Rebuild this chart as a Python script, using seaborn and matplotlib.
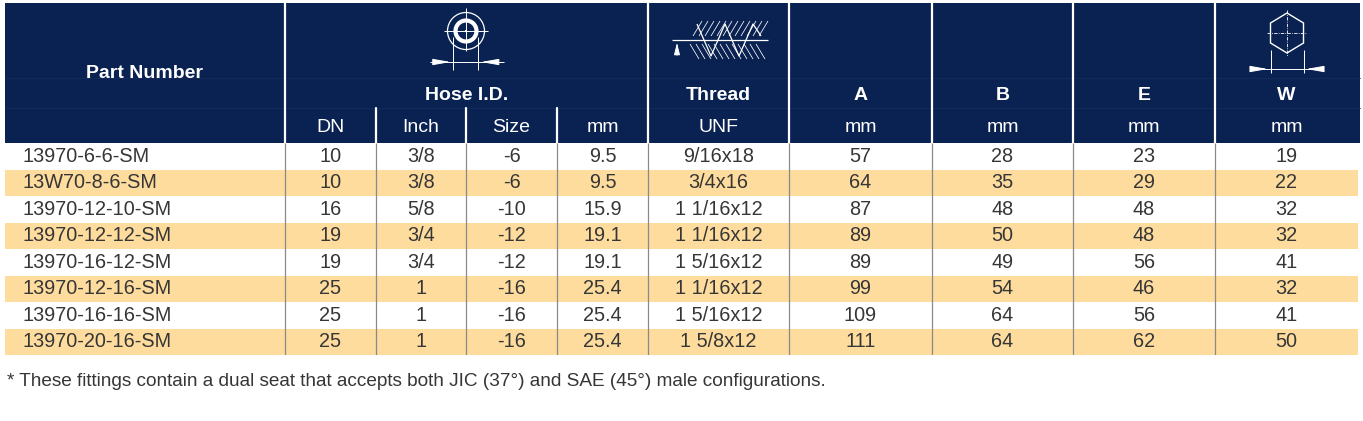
import numpy as np
import pandas as pd
import matplotlib
matplotlib.use("Agg")
import matplotlib.pyplot as plt
from matplotlib.patches import Rectangle, Circle, Polygon
import seaborn as sns

# ---------------- data ----------------
part_numbers = ["13970-6-6-SM", "13W70-8-6-SM", "13970-12-10-SM", "13970-12-12-SM",
                "13970-16-12-SM", "13970-12-16-SM", "13970-16-16-SM", "13970-20-16-SM"]
dn = ["10", "10", "16", "19", "19", "25", "25", "25"]
inch = ["3/8", "3/8", "5/8", "3/4", "3/4", "1", "1", "1"]
size = ["-6", "-6", "-10", "-12", "-12", "-16", "-16", "-16"]
hose_mm = ["9.5", "9.5", "15.9", "19.1", "19.1", "25.4", "25.4", "25.4"]
thread = ["9/16x18", "3/4x16", "1 1/16x12", "1 1/16x12", "1 5/16x12",
          "1 1/16x12", "1 5/16x12", "1 5/8x12"]
dim_a = [57, 64, 87, 89, 89, 99, 109, 111]
dim_b = [28, 35, 48, 50, 49, 54, 64, 64]
dim_e = [23, 29, 48, 48, 56, 46, 56, 62]
dim_w = [19, 22, 32, 32, 41, 32, 41, 50]

main_headers = ["Part Number", "Hose I.D.", "Thread", "A", "B", "E", "W"]
sub_headers = ["DN", "Inch", "Size", "mm", "UNF", "mm", "mm", "mm", "mm"]
footnote = "* These fittings contain a dual seat that accepts both JIC (37°) and SAE (45°) male configurations."

# ---------------- style ----------------
sns.set_theme(style="white")
plt.rcParams["font.family"] = ["Liberation Sans", "DejaVu Sans"]

NAVY = "#0a2251"
ORANGE = "#fddc9d"
TEXT = "#363636"
GRID = "#8a8a8a"

W_PX, H_PX = 1363, 421
fig = plt.figure(figsize=(W_PX / 100, H_PX / 100), dpi=100)

# layout in pixels
X0, X1 = 5, 1358
HEAD_TOP, HEAD_BOT = 3, 143
BODY_BOT = 355
borders = [285, 376, 466, 557, 648, 789, 932, 1073, 1215]
main_borders = [285, 648, 789, 932, 1073, 1215]
sub_borders = [376, 466, 557]
edges = [X0] + borders + [X1]
centers = [(edges[i] + edges[i + 1]) / 2 for i in range(len(edges) - 1)]

# ---------------- background / header axes (pixel coordinates) ----------------
ax = fig.add_axes([0, 0, 1, 1])
ax.set_xlim(0, W_PX)
ax.set_ylim(H_PX, 0)
ax.axis("off")

ax.add_patch(Rectangle((X0, HEAD_TOP), X1 + 2 - X0, HEAD_BOT - HEAD_TOP,
                       facecolor=NAVY, edgecolor="none", zorder=1))
# faint inner lines
for yy in (78, 108):
    ax.plot([X0, X1 + 2], [yy, yy], color="#142b5c", lw=0.6, zorder=2)
for xb in main_borders:
    ax.plot([xb, xb], [HEAD_TOP, HEAD_BOT], color="white", lw=1.6, zorder=3)
for xb in sub_borders:
    ax.plot([xb, xb], [108, HEAD_BOT], color="white", lw=1.6, zorder=3)

hfs = 14
# main headers
ax.text((X0 + 285) / 2, 73, main_headers[0], color="white", fontsize=hfs,
        fontweight="bold", ha="center", va="center", zorder=4)
ax.text((285 + 648) / 2, 95, main_headers[1], color="white", fontsize=hfs,
        fontweight="bold", ha="center", va="center", zorder=4)
for name, i in zip(main_headers[2:], range(5, 10)):
    ax.text(centers[i], 95, name, color="white", fontsize=hfs,
            fontweight="bold", ha="center", va="center", zorder=4)
for name, i in zip(sub_headers, range(1, 10)):
    ax.text(centers[i], 127, name, color="white", fontsize=hfs,
            ha="center", va="center", zorder=4)

# ---- icons ----
wkw = dict(color="white", zorder=5, solid_capstyle="butt")
arr = dict(arrowstyle="-|>,head_length=0.9,head_width=0.16", color="white", lw=0.7)
# Hose I.D. icon
cx, cy = 466, 31
ax.add_patch(Circle((cx, cy), 18.5, fill=False, edgecolor="white", lw=0.9, zorder=5))
ax.add_patch(Circle((cx, cy), 10.5, fill=False, edgecolor="white", lw=3.0, zorder=5))
ax.plot([cx - 22, cx + 22], [cy, cy], lw=0.7, **wkw)
ax.plot([cx, cx], [cy - 23, cy + 20], lw=0.7, **wkw)
ax.plot([cx - 1.2, cx + 1.2], [cy, cy], lw=1.5, **wkw)
for dx in (-12.7, 12.3):
    ax.plot([cx + dx, cx + dx], [cy + 6, cy + 39], lw=0.7, **wkw)
ax.plot([cx - 36, cx + 38], [62, 62], lw=0.7, **wkw)
ax.annotate("", xy=(cx - 12.7, 62), xytext=(cx - 30, 62), arrowprops=arr, zorder=6)
ax.annotate("", xy=(cx + 12.3, 62), xytext=(cx + 30, 62), arrowprops=arr, zorder=6)

# Thread icon
ty = 40
ax.plot([672, 768], [ty, ty], lw=0.9, **wkw)
ax.annotate("", xy=(677, ty), xytext=(677, 58),
            arrowprops=dict(arrowstyle="-|>,head_length=0.6,head_width=0.15",
                            color="white", lw=0.7), zorder=6)
zx = [697, 711, 725, 739, 753, 761]
zy = [24, 56, 24, 56, 24, 36]
ax.plot(zx, zy, lw=0.9, **wkw)
for xs in np.arange(693, 762, 6):
    ax.plot([xs, xs + 9], [36, 21], lw=0.55, **wkw)
for xs in np.arange(690, 758, 6):
    ax.plot([xs, xs + 9], [44, 59], lw=0.55, **wkw)

# Hex (W) icon
hx, hy = 1287, 33
hexpts = [(hx, 13), (hx + 16.5, 23), (hx + 16.5, 43), (hx, 53), (hx - 16.5, 43), (hx - 16.5, 23)]
ax.add_patch(Polygon(hexpts, closed=True, fill=False, edgecolor="white", lw=1.0, zorder=5))
ax.plot([hx - 20, hx + 20], [hy, hy], lw=0.6, ls=(0, (4, 1.5, 1, 1.5)), **wkw)
ax.plot([hx, hx], [10, 56], lw=0.6, ls=(0, (4, 1.5, 1, 1.5)), **wkw)
for dx in (-16.5, 16.5):
    ax.plot([hx + dx, hx + dx], [50, 73], lw=0.7, **wkw)
ax.plot([1252, 1323], [69, 69], lw=0.7, **wkw)
ax.annotate("", xy=(hx - 16.5, 69), xytext=(hx - 34, 69), arrowprops=arr, zorder=6)
ax.annotate("", xy=(hx + 16.5, 69), xytext=(hx + 34, 69), arrowprops=arr, zorder=6)

# footnote
ax.text(7, 381, footnote, color=TEXT, fontsize=13.7, ha="left", va="center")

# ---------------- body axes (seaborn bars for the row stripes) ----------------
body = fig.add_axes([X0 / W_PX, 1 - BODY_BOT / H_PX,
                     (X1 - X0) / W_PX, (BODY_BOT - HEAD_BOT) / H_PX])
df = pd.DataFrame({
    "part": part_numbers,
    "span": [X1] * len(part_numbers),
    "stripe": ["white" if i % 2 == 0 else "orange" for i in range(len(part_numbers))],
})
sns.barplot(data=df, x="span", y="part", hue="stripe", orient="h",
            palette={"white": "white", "orange": ORANGE}, width=1.0,
            dodge=False, legend=False, ax=body, linewidth=0, saturation=1)
body.set_xlim(X0, X1)
body.set_ylim(len(part_numbers) - 0.5, -0.5)
body.axis("off")

body.vlines(borders, -0.5, len(part_numbers) - 0.5, color=GRID, lw=0.9, zorder=3)

columns = [dn, inch, size, hose_mm, thread,
           [str(v) for v in dim_a], [str(v) for v in dim_b],
           [str(v) for v in dim_e], [str(v) for v in dim_w]]
dfs = 14.3
for r, pn in enumerate(part_numbers):
    body.text(22, r, pn, color=TEXT, fontsize=dfs, ha="left", va="center", zorder=4)
    for c, col in enumerate(columns):
        body.text(centers[c + 1], r, col[r], color=TEXT, fontsize=dfs,
                  ha="center", va="center", zorder=4)

fig.savefig("out.png", dpi=100)
